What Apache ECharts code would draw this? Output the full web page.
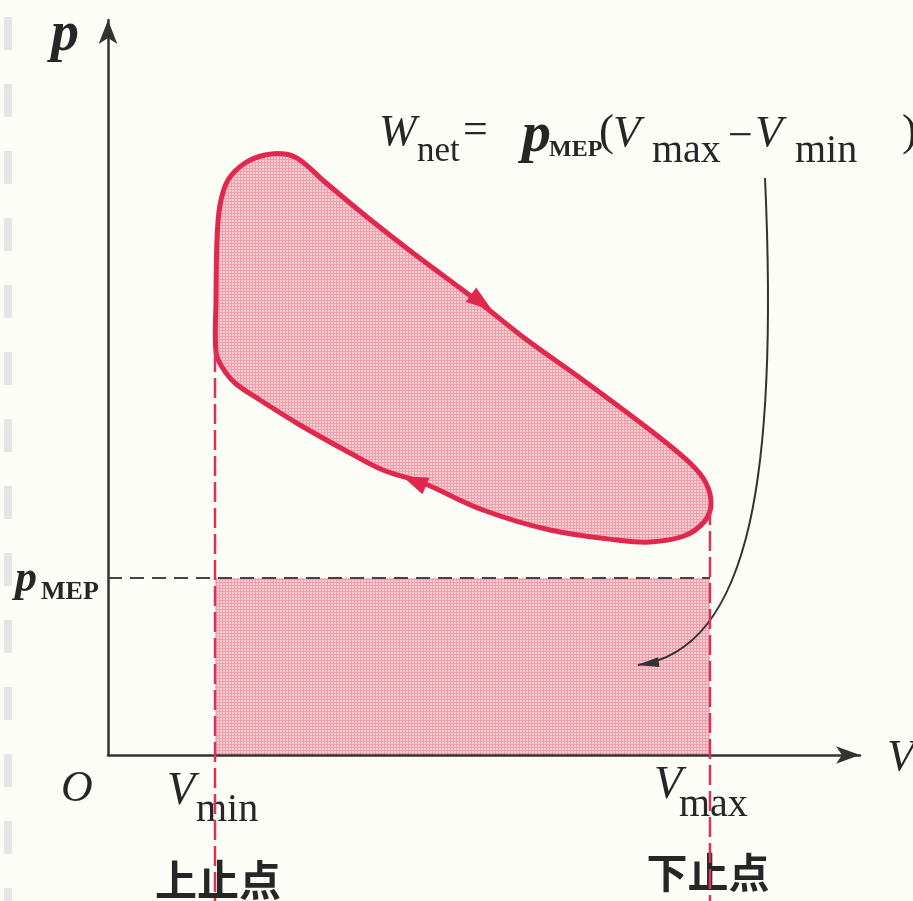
<!DOCTYPE html>
<html>
<head>
<meta charset="utf-8">
<script src="https://cdn.jsdelivr.net/npm/echarts@6/dist/echarts.min.js"></script>
<style>
  html, body { margin: 0; padding: 0; background: #fdfdf8; }
  #main { width: 913px; height: 901px; }
</style>
</head>
<body>
<div id="main"></div>
<script>
// p-V diagram, units: V and p arbitrary
const Vmin = 1.07;
const Vmax = 6.02;
const pMEP = 1.77;
const pLow = -1.46; // where the dashed stroke lines end, below the axis

// closed cycle, going clockwise from the bottom of the Vmin edge
const loopV = [1.08, 1.08, 1.09, 1.12, 1.20, 1.37, 1.57, 1.77, 1.92, 2.17, 2.59, 3.05, 3.72, 4.19, 4.75, 5.42, 5.82, 5.98, 6.03, 5.96, 5.76, 5.42, 5.09, 4.42, 3.75, 3.15, 2.75, 2.42, 1.92, 1.52, 1.27, 1.14];
const loopP = [4.03, 4.55, 5.15, 5.50, 5.75, 5.92, 6.00, 6.01, 5.95, 5.73, 5.38, 5.02, 4.52, 4.15, 3.75, 3.25, 2.92, 2.72, 2.50, 2.33, 2.19, 2.13, 2.15, 2.25, 2.45, 2.72, 2.85, 3.02, 3.30, 3.55, 3.72, 3.88];

// direction arrows on the cycle: [tipV, tipP, backV, backP]
const loopArrows = [
  [3.84, 4.45, 3.05, 5.02],
  [2.94, 2.79, 3.75, 2.45]
];

// curved leader from the formula to the rectangle: start, two control points, end
const leaderV = [6.57, 6.70, 6.45, 5.30];
const leaderP = [5.77, 2.90, 1.05, 0.90];
const leaderArrow = [[5.29, 0.90, 5.44, 0.92]];

// dashed guides: [v1, p1, v2, p2]
const strokeLines = [
  [Vmin, 4.03, Vmin, pLow],
  [Vmax, 2.50, Vmax, pLow]
];
const mepLine = [[0, pMEP, Vmax, pMEP]];

const RED = '#e0284e';
const INK = '#262626';

// dotted pink screen like the printed tint
function makeTint() {
  const c = document.createElement('canvas');
  c.width = 3; c.height = 3;
  const g = c.getContext('2d');
  g.fillStyle = '#f8cdd3';
  g.fillRect(0, 0, 3, 3);
  g.fillStyle = '#eca0ab';
  g.fillRect(0, 0, 3, 1);
  g.fillRect(0, 0, 1, 3);
  return { image: c, repeat: 'repeat' };
}
const tint = makeTint();

function arrowItem(len, half, color) {
  return function (params, api) {
    const tip = api.coord([api.value(0), api.value(1)]);
    const back = api.coord([api.value(2), api.value(3)]);
    let dx = tip[0] - back[0], dy = tip[1] - back[1];
    const L = Math.hypot(dx, dy);
    dx /= L; dy /= L;
    const bx = tip[0] - dx * len, by = tip[1] - dy * len;
    return {
      type: 'polygon',
      shape: { points: [tip, [bx - dy * half, by + dx * half], [bx + dy * half, by - dx * half]] },
      style: { fill: color }
    };
  };
}

function segItem(color, width, dash) {
  return function (params, api) {
    const a = api.coord([api.value(0), api.value(1)]);
    const b = api.coord([api.value(2), api.value(3)]);
    return {
      type: 'line',
      shape: { x1: a[0], y1: a[1], x2: b[0], y2: b[1] },
      style: { stroke: color, lineWidth: width, lineDash: dash }
    };
  };
}

const serif = '"Liberation Serif", "DejaVu Serif", serif';
function txt(text, x, y, font, align) {
  return {
    type: 'text', x: x, y: y, z: 1,
    style: { text: text, font: font, fill: INK, align: align || 'left', verticalAlign: 'middle' }
  };
}

const texts = [
  txt('p', 51, 36, 'italic bold 56px ' + serif),
  txt('V', 887, 758, 'italic 45px ' + serif),
  txt('O', 61, 789, 'italic 44px ' + serif),
  txt('V', 167, 792, 'italic 46px ' + serif),
  txt('min', 196, 810, '40px ' + serif),
  txt('V', 654, 786, 'italic 46px ' + serif),
  txt('max', 679, 805, '40px ' + serif),
  txt('上止点', 218, 880, 'bold 42px "Noto Sans CJK SC"', 'center'),
  txt('下止点', 708, 872, 'bold 41px "Noto Sans CJK SC"', 'center'),
  txt('p', 15, 580, 'italic bold 44px ' + serif),
  txt('MEP', 41, 592, 'bold 26px ' + serif),
  // formula
  txt('W', 379, 133, 'italic 45px ' + serif),
  txt('net', 417, 152, '35px ' + serif),
  txt('=', 463, 131, '44px ' + serif),
  txt('p', 522, 136, 'italic bold 58px ' + serif),
  txt('MEP', 549, 150, 'bold 24px ' + serif),
  txt('(', 599, 133, '45px ' + serif),
  txt('V', 613, 134, 'italic 45px ' + serif),
  txt('max', 652, 151, '40px ' + serif),
  txt('\u2212', 728, 137, '44px ' + serif),
  txt('V', 755, 134, 'italic 45px ' + serif),
  txt('min', 795, 151, '40px ' + serif),
  txt(')', 902, 133, '45px ' + serif),
  // inside the loop
  txt('W', 371, 377, 'italic 40px ' + serif),
  txt('net', 405, 398, '38px ' + serif)
];

// faint scanner marks down the left margin
const margin = [];
for (let y = 17; y < 901; y += 67) {
  margin.push({ type: 'rect', shape: { x: 4, y: y, width: 8, height: 33 }, style: { fill: '#e4e4e2' } });
}

const chart = echarts.init(document.getElementById('main'));
chart.setOption({
  backgroundColor: '#fdfdf8',
  animation: false,
  grid: { left: 108, right: 53, top: 20, bottom: 146 },
  xAxis: {
    type: 'value', min: 0, max: 7.52, z: 10,
    axisLine: { show: true, symbol: ['none', 'arrow'], symbolSize: [13, 24], lineStyle: { color: '#333', width: 2.5 } },
    axisTick: { show: false }, axisLabel: { show: false }, splitLine: { show: false }
  },
  yAxis: {
    type: 'value', min: 0, max: 7.35, z: 10,
    axisLine: { show: true, symbol: ['none', 'arrow'], symbolSize: [14, 24], lineStyle: { color: '#333', width: 2.5 } },
    axisTick: { show: false }, axisLabel: { show: false }, splitLine: { show: false }
  },
  graphic: margin.concat(texts),
  series: [
    {
      // p_MEP * (Vmax - Vmin) rectangle
      type: 'custom', silent: true, z: 2,
      data: [[Vmin, 0, Vmax, pMEP]],
      renderItem: function (params, api) {
        const a = api.coord([api.value(0), api.value(3)]);
        const b = api.coord([api.value(2), api.value(1)]);
        return { type: 'rect', shape: { x: a[0], y: a[1], width: b[0] - a[0], height: b[1] - a[1] }, style: { fill: tint } };
      }
    },
    {
      // the cycle
      type: 'custom', silent: true, z: 3,
      data: [0],
      renderItem: function (params, api) {
        const pts = loopV.map(function (v, i) { return api.coord([v, loopP[i]]); });
        return {
          type: 'polygon',
          shape: { points: pts, smooth: 0.35 },
          style: { fill: tint, stroke: RED, lineWidth: 5 }
        };
      }
    },
    {
      type: 'custom', silent: true, z: 4,
      data: loopArrows,
      renderItem: arrowItem(26, 9, RED)
    },
    {
      type: 'custom', silent: true, z: 4,
      data: mepLine,
      renderItem: segItem('#444', 2, [14, 8])
    },
    {
      type: 'custom', silent: true, z: 11,
      data: strokeLines,
      renderItem: segItem('#d8345a', 2.5, [20, 6])
    },
    {
      // leader curve (one cubic)
      type: 'custom', silent: true, z: 5,
      data: [0],
      renderItem: function (params, api) {
        const p = leaderV.map(function (v, i) { return api.coord([v, leaderP[i]]); });
        return {
          type: 'bezierCurve',
          shape: {
            x1: p[0][0], y1: p[0][1],
            cpx1: p[1][0], cpy1: p[1][1],
            cpx2: p[2][0], cpy2: p[2][1],
            x2: p[3][0], y2: p[3][1]
          },
          style: { stroke: '#333', lineWidth: 2, fill: null }
        };
      }
    },
    {
      type: 'custom', silent: true, z: 6,
      data: leaderArrow,
      renderItem: arrowItem(22, 5, '#333')
    }
  ]
});
</script>
</body>
</html>
